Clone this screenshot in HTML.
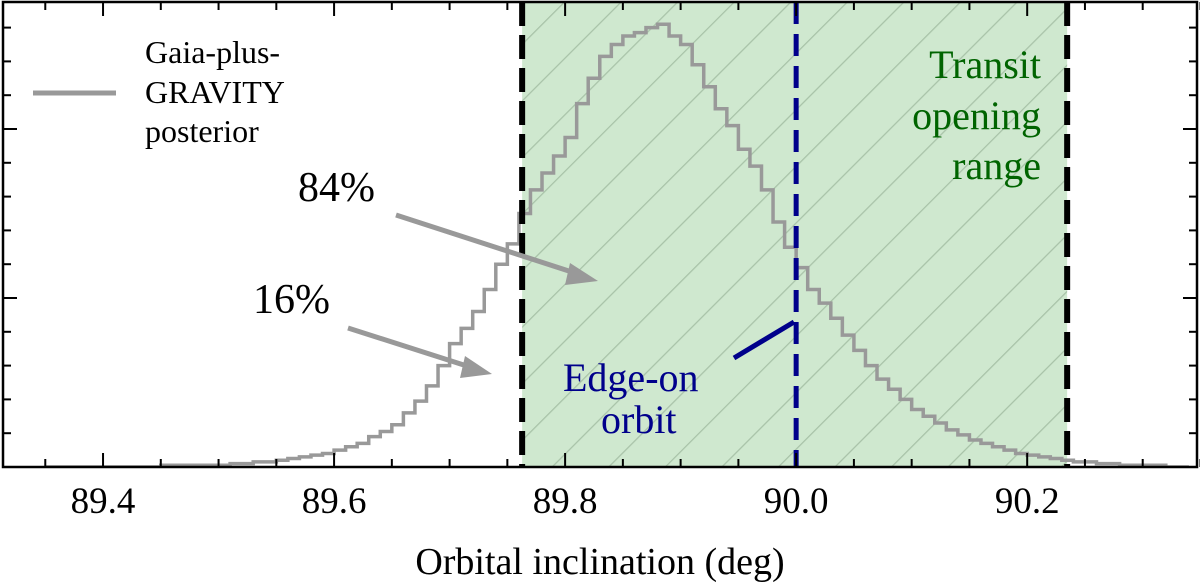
<!DOCTYPE html>
<html><head><meta charset="utf-8"><style>
html,body{margin:0;padding:0;background:#fff;}
svg{display:block;font-family:"Liberation Serif",serif;}
</style></head><body>
<svg id="chart" width="1200" height="585" viewBox="0 0 1200 585">
<defs>
<pattern id="hatch" patternUnits="userSpaceOnUse" width="40" height="40" patternTransform="rotate(45)">
<rect width="40" height="40" fill="#cfe8cf"/>
<line x1="0" y1="0" x2="0" y2="40" stroke="#a8c2a8" stroke-width="2.5"/>
</pattern>
<clipPath id="plotclip"><rect x="3" y="2" width="1194" height="465"/></clipPath>
</defs>
<g id="plot" clip-path="url(#plotclip)"></g>
<g id="axes"></g>
</svg>
<script>
const xTicks = [89.4, 89.6, 89.8, 90.0, 90.2];
const xTickLabels = ["89.4", "89.6", "89.8", "90.0", "90.2"];
const binStart = 89.35;
const binWidth = 0.01;
const histValues = [0,0,0,0,0,0,0,0,0,0,
0.01,0.01,0.01,0.01,0.01,0.01,0.02,0.02,0.03,0.03,
0.04,0.05,0.06,0.07,0.08,0.10,0.12,0.14,0.18,0.21,
0.25,0.32,0.39,0.48,0.60,0.73,0.82,0.92,1.05,1.20,
1.32,1.50,1.64,1.74,1.84,1.95,2.15,2.30,2.43,2.50,
2.55,2.57,2.60,2.62,2.55,2.50,2.38,2.25,2.12,2.02,
1.88,1.78,1.64,1.45,1.30,1.18,1.05,0.97,0.88,0.78,
0.69,0.60,0.52,0.46,0.40,0.34,0.30,0.26,0.22,0.19,
0.16,0.14,0.12,0.10,0.08,0.07,0.06,0.05,0.04,0.03,
0.03,0.02,0.02,0.01,0.01,0.01,0.01,0,0];
const transitRange = [89.7628, 90.2346];
const edgeOn = [90.0];

const NS = "http://www.w3.org/2000/svg";
const X0 = 3, X1 = 1197, Y0 = 2, Y1 = 467;
const xMin = 89.3134, xMax = 90.347;
function xs(v){ return X0 + (v - xMin) / (xMax - xMin) * (X1 - X0); }
function ys(v){ return Y1 - v * 169; }
function mk(tag, attrs, parent){ const e=document.createElementNS(NS,tag); for(const k in attrs) e.setAttribute(k, attrs[k]); parent.appendChild(e); return e; }
const plot = document.getElementById('plot');
const axes = document.getElementById('axes');

let band = mk('rect',{x:xs(transitRange[0]),y:Y0,width:xs(transitRange[1])-xs(transitRange[0]),height:Y1-Y0,fill:'url(#hatch)'},plot);



let d = '';
histValues.forEach((v,i)=>{
  const a = xs(binStart + i*binWidth), b = xs(binStart + (i+1)*binWidth), y = ys(v);
  d += (i===0 ? 'M'+a+','+y : 'L'+a+','+y) + 'L'+b+','+y;
});
let hist = mk('path',{d:d,fill:'none',stroke:'#999',"stroke-width":3.5},plot);



transitRange.forEach((v,i)=>{
  const l = mk('line',{x1:xs(v),x2:xs(v),y1:Y0,y2:Y1,stroke:'#000',"stroke-width":6,"stroke-dasharray":"24,9"},plot);
  
  
});
edgeOn.forEach(v=>{
  const l = mk('line',{x1:xs(v),x2:xs(v),y1:Y0,y2:Y1,stroke:'#00008b',"stroke-width":5,"stroke-dasharray":"22,10"},plot);
  
  
});

let frame = mk('rect',{x:X0,y:Y0,width:X1-X0,height:Y1-Y0,fill:'none',stroke:'#000',"stroke-width":2.5},axes);



for(let t=89.35; t<=90.35+1e-9; t+=0.05){
  const x = xs(t);
  const major = Math.abs(Math.round(t*5)/5 - t) < 1e-6;
  const len = major ? 14 : 8;
  mk('line',{x1:x,x2:x,y1:Y1,y2:Y1-len,stroke:'#000',"stroke-width":2},axes);
  mk('line',{x1:x,x2:x,y1:Y0,y2:Y0+len,stroke:'#000',"stroke-width":2},axes);
}
xTicks.forEach((t,i)=>{
  const tx = mk('text',{x:xs(t),y:513,"text-anchor":"middle","font-size":37,"font-family":"Liberation Serif, serif"},axes);
  tx.textContent = xTickLabels[i];
  
  
});
for(let k=-1;k<=13;k++){
  const y = ys(k*0.2);
  if(y<Y0||y>Y1) continue;
  const len = (k%5===0) ? 14 : 8;
  mk('line',{x1:X0,x2:X0+len,y1:y,y2:y,stroke:'#000',"stroke-width":2},axes);
  mk('line',{x1:X1,x2:X1-len,y1:y,y2:y,stroke:'#000',"stroke-width":2},axes);
}
</script>
<svg width="1200" height="585" style="position:absolute;left:0;top:0;font-family:'Liberation Serif',serif">
<text x="600" y="574" text-anchor="middle" font-size="38" font-family="Liberation Serif, serif">Orbital inclination (deg)</text>
<g>
<line x1="33" y1="93" x2="116" y2="93" stroke="#999" stroke-width="5"/>
<text font-size="32" font-family="Liberation Serif, serif"><tspan x="145" y="63">Gaia-plus-</tspan><tspan x="145" y="103">GRAVITY</tspan><tspan x="145" y="142">posterior</tspan></text>
</g>
<text x="298" y="201" font-size="42" font-family="Liberation Serif, serif">84%</text>
<text x="253" y="313" font-size="42" font-family="Liberation Serif, serif">16%</text>
<line x1="396" y1="215" x2="575" y2="273" stroke="#999" stroke-width="5"/>
<polygon points="598,281 570,263 565,285" fill="#999"/>
<line x1="348" y1="328" x2="470" y2="367" stroke="#999" stroke-width="5"/>
<polygon points="492,374 465,356 460,378" fill="#999"/>
<text font-size="40" fill="#00008b" font-family="Liberation Serif, serif"><tspan x="563" y="391">Edge-on</tspan><tspan x="601" y="433">orbit</tspan></text>
<line x1="734" y1="358" x2="794" y2="322" stroke="#00008b" stroke-width="5"/>
<text font-size="40" fill="#006400" text-anchor="end" font-family="Liberation Serif, serif"><tspan x="1041" y="78">Transit</tspan><tspan x="1041" y="129">opening</tspan><tspan x="1041" y="179">range</tspan></text>
</svg>
</body></html>
